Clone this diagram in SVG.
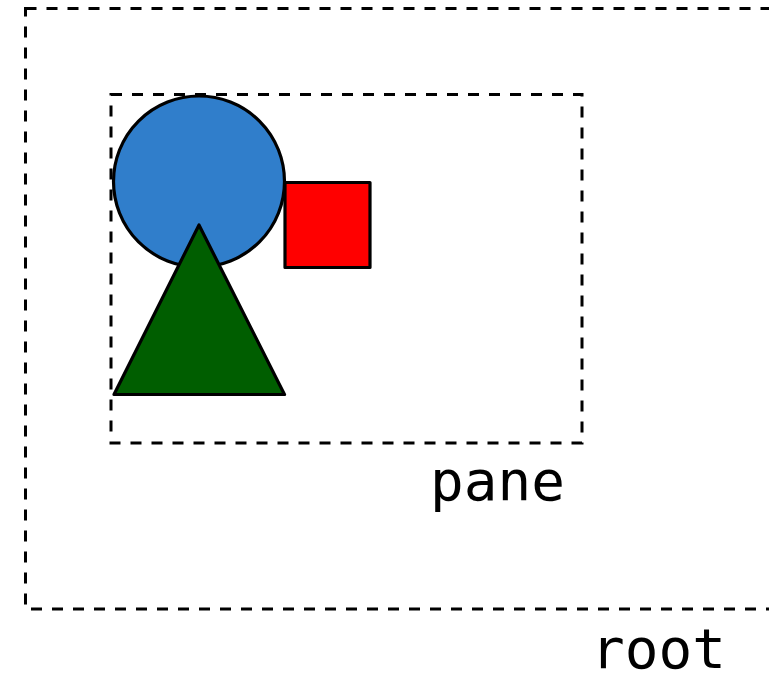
<svg xmlns="http://www.w3.org/2000/svg" width="769" height="673" viewBox="0 0 769 673">
  <style>
    .frame { fill: none; stroke: #000; stroke-width: 3; stroke-dasharray: 11 10; }
    .shape { stroke: #000; stroke-width: 3.2; stroke-linejoin: round; }
    .label { font-family: "DejaVu Sans Mono", monospace; font-size: 56px; fill: #000; }
  </style>
  <rect width="769" height="673" fill="#fff"/>
  <g id="root">
    <rect class="frame" x="25.5" y="8.5" width="800" height="600.5"/>
    <text class="label" x="591" y="668">root</text>
  </g>
  <g id="pane">
    <rect class="frame" x="111" y="94.5" width="471" height="348.5"/>
    <text class="label" x="430" y="500">pane</text>
  </g>
  <g id="circle">
    <circle class="shape" cx="199" cy="181.5" r="85.5" fill="#307ecb"/>
  </g>
  <g id="square">
    <rect class="shape" x="285" y="182.5" width="85" height="85" fill="#ff0000"/>
  </g>
  <g id="triangle">
    <polygon class="shape" points="199,225 284.5,394.5 114,394.5" fill="#005e00"/>
  </g>
</svg>
